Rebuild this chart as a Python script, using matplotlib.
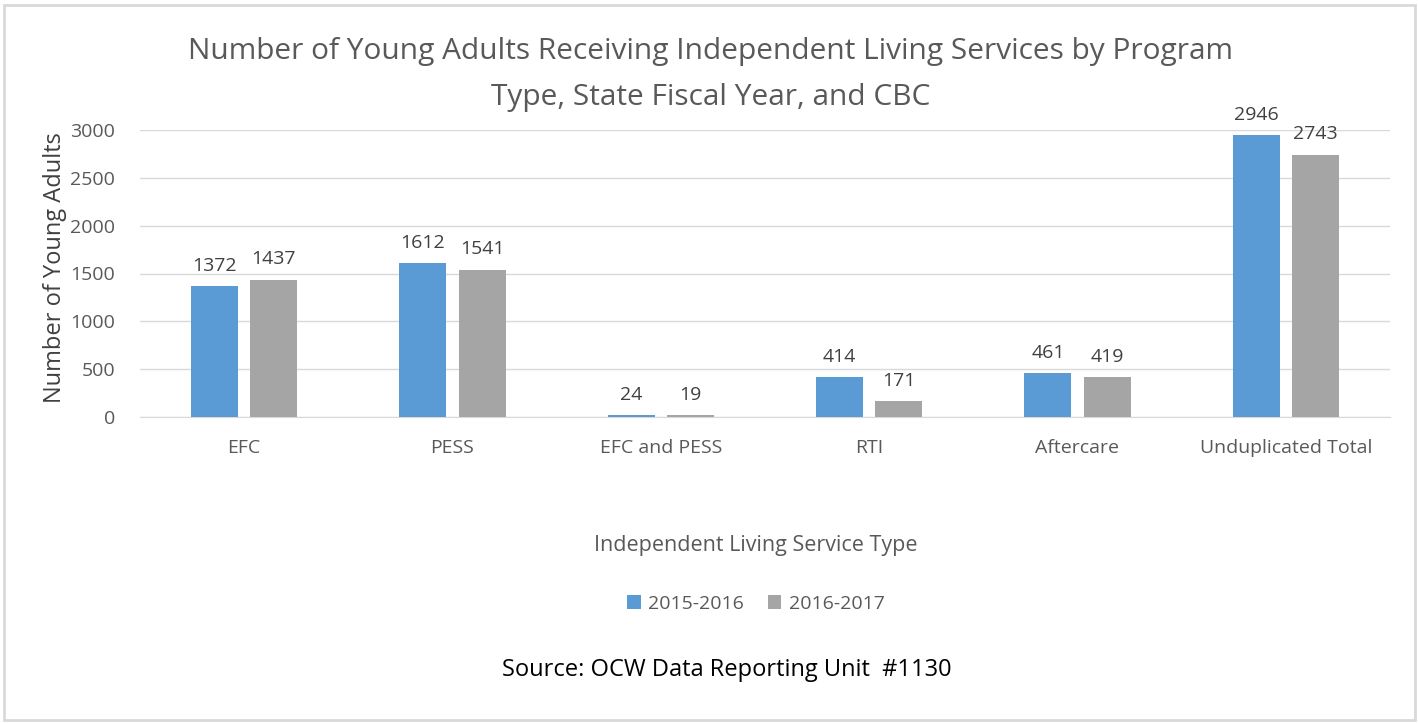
import numpy as np
import matplotlib; matplotlib.use("Agg")
import matplotlib.pyplot as plt
from matplotlib.patches import Rectangle

categories = ["EFC", "PESS", "EFC and PESS", "RTI", "Aftercare", "Unduplicated Total"]
fy_2015_2016 = [1372, 1612, 24, 414, 461, 2946]
fy_2016_2017 = [1437, 1541, 19, 171, 419, 2743]
series_names = ["2015-2016", "2016-2017"]
yticks = [0, 500, 1000, 1500, 2000, 2500, 3000]

plt.rcParams["font.family"] = ["Open Sans", "DejaVu Sans"]
TXT = "#595959"

fig = plt.figure(figsize=(14.18, 7.23), dpi=100)
ax = fig.add_axes([140/1418, 1-417/723, 1250/1418, 287/723])

x = np.arange(len(categories)); w = 0.226; off = 0.142
b1 = ax.bar(x-off, fy_2015_2016, w, color="#5B9BD5", label=series_names[0], zorder=3)
b2 = ax.bar(x+off, fy_2016_2017, w, color="#A5A5A5", label=series_names[1], zorder=3)
for bars in (b1, b2):
    for r in bars:
        ax.annotate(f"{int(r.get_height())}", (r.get_x()+r.get_width()/2, r.get_height()),
                    xytext=(0, 8), textcoords="offset points", ha="center", va="bottom",
                    fontsize=14, color="#404040")

ax.set_xlim(-0.5, len(categories)-0.5); ax.set_ylim(0, 3000)
ax.set_yticks(yticks); ax.set_xticks(x); ax.set_xticklabels(categories)
ax.tick_params(axis="both", length=0, labelsize=14, labelcolor=TXT)
ax.tick_params(axis="x", pad=16); ax.tick_params(axis="y", pad=18)
ax.grid(axis="y", color="#d9d9d9", lw=1, zorder=0)
for s in ["top", "right", "left"]: ax.spines[s].set_visible(False)
ax.spines["bottom"].set_color("#d9d9d9")

fig.text(55/1418, 1-268/723, "Number of Young Adults", rotation=90, ha="center", va="center",
         fontsize=17, color="#404040")
fig.text(711/1418, 1-51/723, "Number of Young Adults Receiving Independent Living Services by Program",
         ha="center", va="center", fontsize=21.5, color=TXT)
fig.text(711/1418, 1-98/723, "Type, State Fiscal Year, and CBC",
         ha="center", va="center", fontsize=21.5, color=TXT)
fig.text(756/1418, 1-546/723, "Independent Living Service Type", ha="center", va="center",
         fontsize=15.5, color=TXT)
fig.legend(handles=[b1, b2], loc="center", bbox_to_anchor=(756/1418, 1-604/723), ncol=2,
           frameon=False, fontsize=14, handlelength=0.7, handleheight=0.7, handletextpad=0.4,
           columnspacing=1.2, labelcolor=TXT)
fig.text(727/1418, 1-670/723, "Source: OCW Data Reporting Unit  #1130", ha="center", va="center",
         fontsize=17, color="black")

fig.patches.append(Rectangle((4/1418, 3/723), 1411/1418, 715/723, transform=fig.transFigure,
                             fill=False, edgecolor="#d9d9d9", lw=2))
fig.savefig("out.png", dpi=100)
